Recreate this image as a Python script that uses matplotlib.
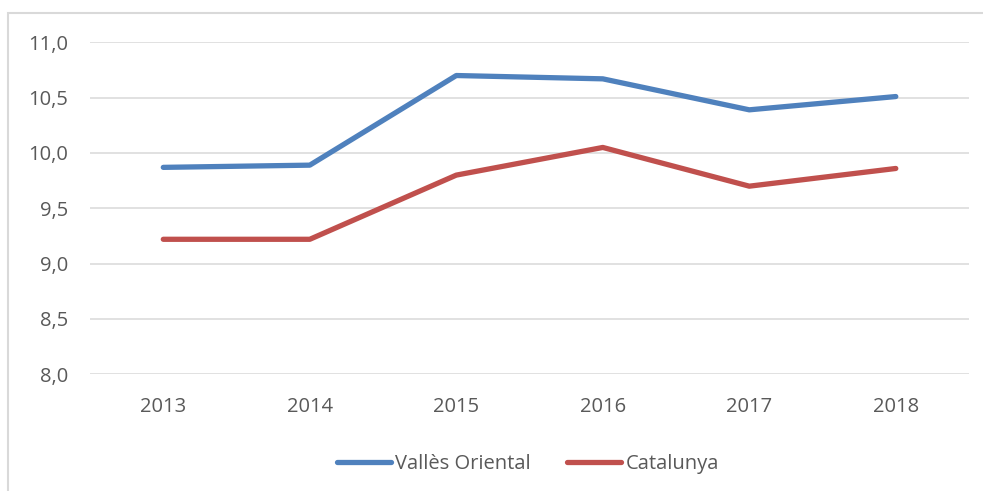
import matplotlib
matplotlib.use("Agg")
import matplotlib.pyplot as plt
from matplotlib.patches import Rectangle
from matplotlib.ticker import FuncFormatter

years = ["2013", "2014", "2015", "2016", "2017", "2018"]
valles = [9.87, 9.89, 10.70, 10.67, 10.39, 10.51]
catalunya = [9.22, 9.22, 9.80, 10.05, 9.70, 9.86]

plt.rcParams["font.family"] = ["Open Sans", "DejaVu Sans"]
text_col = "#595959"

fig = plt.figure(figsize=(9.83, 4.91), dpi=100)
ax = fig.add_axes([0.0916, 0.2377, 0.8942, 0.6761])

x = range(len(years))
ax.plot(x, valles, color="#4F81BD", lw=3.8, solid_capstyle="round",
        solid_joinstyle="round", label="Vallès Oriental", zorder=3)
ax.plot(x, catalunya, color="#C0504D", lw=3.8, solid_capstyle="round",
        solid_joinstyle="round", label="Catalunya", zorder=3)

ax.set_xlim(-0.5, len(years) - 0.5)
ax.set_ylim(8.0, 11.0)
ax.set_yticks([8.0, 8.5, 9.0, 9.5, 10.0, 10.5, 11.0])
ax.yaxis.set_major_formatter(FuncFormatter(lambda v, p: f"{v:.1f}".replace(".", ",")))
ax.set_xticks(list(x))
ax.set_xticklabels(years)

ax.grid(axis="y", color="#D9D9D9", lw=1.1, zorder=0)
for s in ax.spines.values():
    s.set_visible(False)
ax.tick_params(length=0, colors=text_col, labelsize=14.5)
ax.tick_params(axis="y", pad=16)
ax.tick_params(axis="x", pad=16)

# outer chart border
fig.patches.append(Rectangle((0.008, -0.1), 1.2, 1.073, transform=fig.transFigure,
                             fill=False, edgecolor="#D9D9D9", lw=1.5))

leg = fig.legend(loc="center", bbox_to_anchor=(0.537, 0.055), ncol=2, frameon=False,
                 fontsize=14.5, handlelength=2.7, handletextpad=0.2, columnspacing=1.8)
for t in leg.get_texts():
    t.set_color(text_col)

fig.savefig("out.png", dpi=100)
